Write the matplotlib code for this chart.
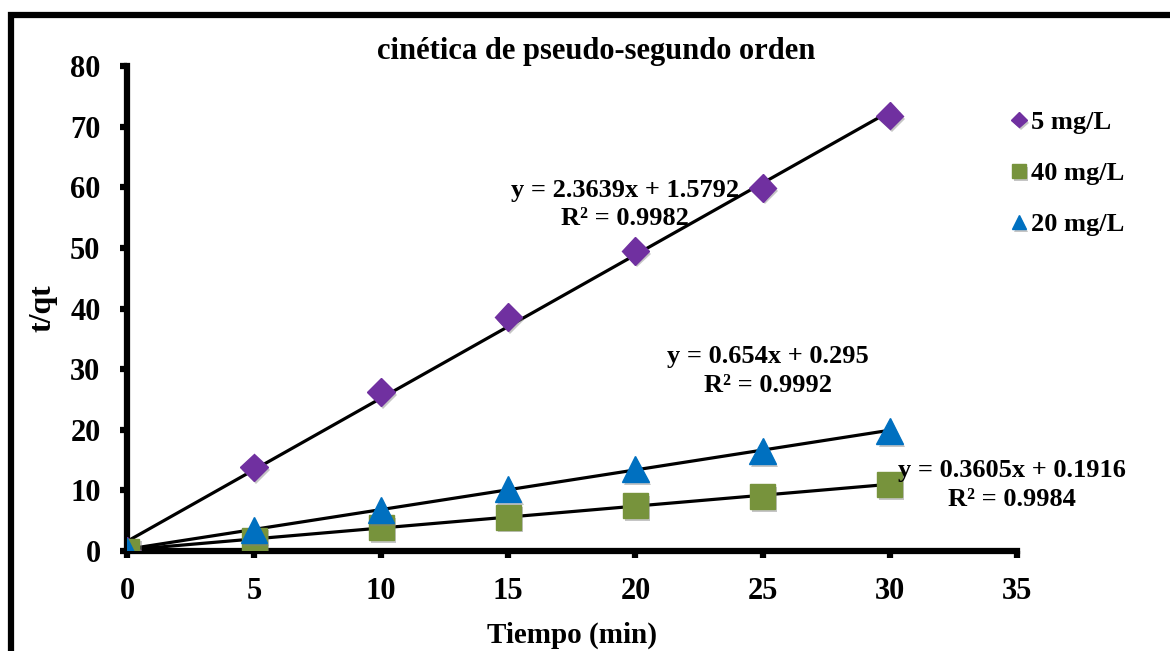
import numpy as np
import matplotlib.pyplot as plt
import matplotlib.patheffects as pe
from matplotlib.patches import Rectangle

# datos
tiempo = [0, 5, 10, 15, 20, 25, 30]
c5 = [0, 13.8, 26.2, 38.6, 49.5, 59.9, 71.8]
c40 = [0, 1.8, 3.9, 5.6, 7.5, 9.0, 10.9]
c20 = [0, 3.5, 6.8, 10.2, 13.5, 16.5, 19.8]

# ajustes lineales mostrados en el grafico
pendientes = [2.3639, 0.654, 0.3605]
intercepto = [1.5792, 0.295, 0.1916]
r2 = [0.9982, 0.9992, 0.9984]

plt.rcParams['font.family'] = ['Liberation Serif', 'DejaVu Serif']
plt.rcParams['font.weight'] = 'bold'

fig = plt.figure(figsize=(11.7, 6.51), dpi=100)
ax = fig.add_axes([0.1085, 0.1536, 0.7605, 0.745])

# marco exterior (solo se ven arriba e izquierda)
fig.patches.append(Rectangle((0.009, -0.1), 1.2, 1.077, transform=fig.transFigure,
                             fill=False, edgecolor='black', linewidth=4.5, clip_on=False))

sombra = [pe.SimplePatchShadow(offset=(1.5, -2), shadow_rgbFace='gray', alpha=0.45), pe.Normal()]

# lineas de tendencia
x_fit = np.array([tiempo[0], tiempo[-1]])
for m, b in zip(pendientes, intercepto):
    ax.plot(x_fit, m * x_fit + b, color='black', linewidth=2.3, zorder=2)

ax.plot(tiempo, c5, 'D', color='#7030A0', markersize=14, label='5 mg/L', zorder=3, path_effects=sombra)
ax.plot(tiempo, c40, 's', color='#77933C', markersize=18, label='40 mg/L', zorder=3, path_effects=sombra)
ax.plot(tiempo, c20, '^', color='#0070C0', markersize=19, label='20 mg/L', zorder=4, path_effects=sombra)

ax.set_xlim(0, 35)
ax.set_ylim(0, 80)
ax.set_xticks(range(0, 36, 5))
ax.set_yticks(range(0, 81, 10))
for s in ['top', 'right']:
    ax.spines[s].set_visible(False)
for s in ['left', 'bottom']:
    ax.spines[s].set_linewidth(4.5)
ax.tick_params(direction='out', length=5, width=4.5, labelsize=22)
ax.tick_params(axis='x', pad=14)
ax.tick_params(axis='y', pad=14)
ax.patch.set_alpha(0)

ax.set_title('cinética de pseudo-segundo orden', fontsize=22, fontweight='bold', pad=-12, x=0.5275)
ax.set_xlabel('Tiempo (min)', fontsize=21, fontweight='bold', labelpad=11)
ax.set_ylabel('t/qt', fontsize=23, fontweight='bold', labelpad=9)

# ecuaciones
pos_txt = [(19.6, 57.2), (25.2, 29.7), (34.8, 10.9)]
for (tx, ty), m, b, r in zip(pos_txt, pendientes, intercepto, r2):
    ax.text(tx, ty, f'y = {m}x + {b}\nR² = {r}', ha='center', va='center',
            fontsize=19, fontweight='bold', linespacing=1.3, clip_on=False)

leg = ax.legend(loc='upper left', bbox_to_anchor=(0.967, 0.957), frameon=False, fontsize=19,
                handlelength=0.6, handletextpad=0.15, labelspacing=1.05, markerscale=0.55)

fig.savefig('out.png', dpi=100)
